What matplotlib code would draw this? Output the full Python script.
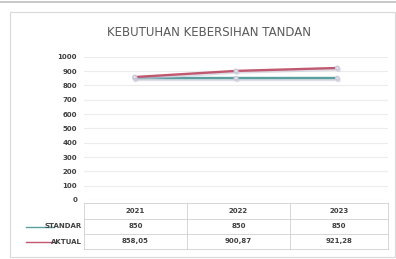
import matplotlib
matplotlib.use("Agg")
import matplotlib.pyplot as plt
from matplotlib.lines import Line2D
from matplotlib.patches import Rectangle
import matplotlib.patheffects as pe

# ---- data ----
title = "KEBUTUHAN KEBERSIHAN TANDAN"
categories = ["2021", "2022", "2023"]
series_names = ["STANDAR", "AKTUAL"]
standar = [850, 850, 850]
aktual = [858.05, 900.87, 921.28]
y_ticks = [0, 100, 200, 300, 400, 500, 600, 700, 800, 900, 1000]

W, H = 396, 259
fig = plt.figure(figsize=(W / 100, H / 100), dpi=100)
fig.patch.set_facecolor("white")

def fx(px):
    return px / W

def fy(py):
    return 1 - py / H

# outer chart border
fig.add_artist(Rectangle((fx(10), fy(257)), fx(395) - fx(10), fy(12) - fy(257),
                         transform=fig.transFigure, fill=False,
                         edgecolor="#d9d9d9", linewidth=0.8))
fig.add_artist(Line2D([0, 1], [fy(1.5), fy(1.5)], transform=fig.transFigure,
                      color="#bfbfbf", linewidth=1.2))

left, right = 84, 388
top, bottom = 56.7, 200
ax = fig.add_axes([fx(left), fy(bottom), fx(right) - fx(left), fy(top) - fy(bottom)])
ax.set_facecolor("white")
ax.set_xlim(0, len(categories))
ax.set_ylim(0, 1000)
ax.set_yticks(y_ticks)
ax.set_yticklabels([str(v) for v in y_ticks], fontsize=5, color="#404040",
                   fontweight="bold")
ax.set_xticks([])
ax.tick_params(axis="y", length=0, pad=5)
for s in ax.spines.values():
    s.set_visible(False)
ax.grid(axis="y", color="#ececec", linewidth=0.8)
ax.set_axisbelow(True)

xs = [i + 0.5 for i in range(len(categories))]
teal = "#5aa0a0"
red = "#c05870"
shadow = [pe.SimpleLineShadow(offset=(0.8, -1.2), shadow_color="#c8c8d8", alpha=0.6), pe.Normal()]
ax.plot(xs, standar, color=teal, linewidth=1.7, marker="o", markersize=2.5,
        markerfacecolor="#e8e8f0", markeredgecolor="#c8c8d8", zorder=3,
        path_effects=shadow)
ax.plot(xs, aktual, color=red, linewidth=1.7, marker="o", markersize=2.5,
        markerfacecolor="#e8e8f0", markeredgecolor="#c8c8d8", zorder=4,
        path_effects=shadow)

fig.text(fx(209), fy(33), title, ha="center", va="center", fontsize=8.5,
         color="#595959", family="DejaVu Sans")

# ---- data table ----
col_edges = [84, 187, 290, 388]
row_edges = [203, 219, 234, 249]
gc = "#d0d0d0"
for x in col_edges:
    fig.add_artist(Line2D([fx(x), fx(x)], [fy(row_edges[0]), fy(row_edges[-1])],
                          transform=fig.transFigure, color=gc, linewidth=0.6))
for y in row_edges[1:]:
    fig.add_artist(Line2D([fx(col_edges[0]), fx(col_edges[-1])], [fy(y), fy(y)],
                          transform=fig.transFigure, color=gc, linewidth=0.6))
fig.add_artist(Line2D([fx(col_edges[0]), fx(col_edges[-1])], [fy(row_edges[0]), fy(row_edges[0])],
                      transform=fig.transFigure, color=gc, linewidth=0.6))

def fmt(v):
    if float(v).is_integer():
        return str(int(v))
    return ("%.2f" % v).replace(".", ",")

rows = [categories, [fmt(v) for v in standar], [fmt(v) for v in aktual]]
for r, vals in enumerate(rows):
    yc = (row_edges[r] + row_edges[r + 1]) / 2
    for c, v in enumerate(vals):
        xc = (col_edges[c] + col_edges[c + 1]) / 2
        fig.text(fx(xc), fy(yc), v, ha="center", va="center", fontsize=5,
                 color="#404040", fontweight="bold")

for r, (name, col) in enumerate(zip(series_names, [teal, red])):
    yc = (row_edges[r + 1] + row_edges[r + 2]) / 2
    fig.add_artist(Line2D([fx(26), fx(54)], [fy(yc), fy(yc)], transform=fig.transFigure,
                          color=col, linewidth=1.0))
    fig.text(fx(82), fy(yc), name, ha="right", va="center", fontsize=5,
             color="#404040", fontweight="bold")

fig.savefig("out.png", dpi=100, facecolor="white")
